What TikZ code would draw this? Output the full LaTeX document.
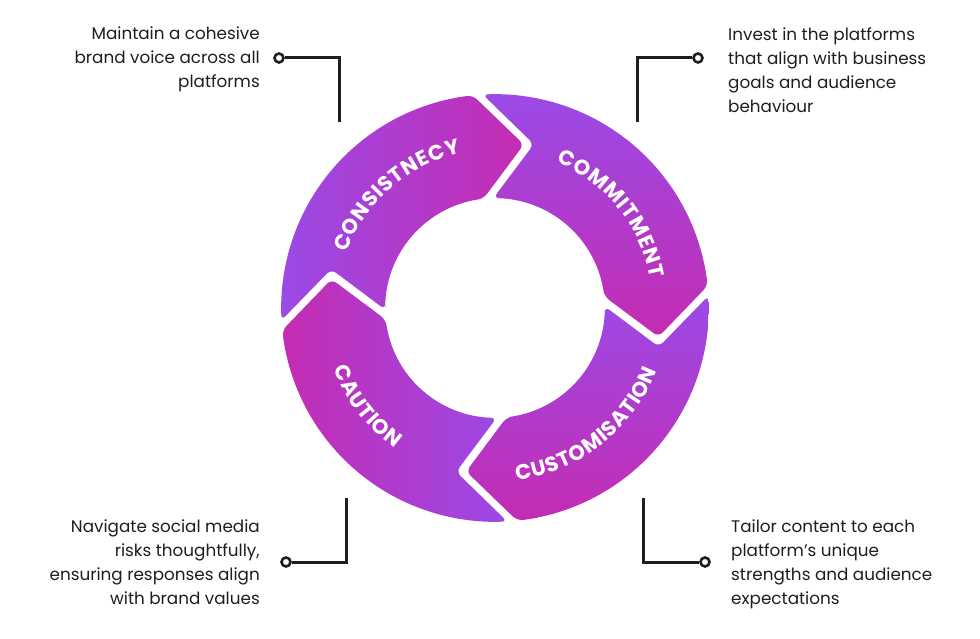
\documentclass[tikz,border=0pt]{standalone}
\usepackage{fontspec}
\setmainfont{Poppins}
\usetikzlibrary{calc,decorations.text}
\definecolor{purp}{HTML}{9B4AE6}
\definecolor{mag}{HTML}{C42CB2}
\definecolor{ink}{HTML}{1E1E1E}
\newcommand\labelfont{\bfseries\fontsize{21pt}{21pt}\selectfont}
% one cycle segment: #1 start boundary angle, #2 shading options
\newcommand\cyclesegment[2]{%
  \pgfmathsetmacro\sA{#1+1.32}%
  \pgfmathsetmacro\sB{#1-86}%
  \pgfmathsetmacro\sC{#1-102}%
  \pgfmathsetmacro\sD{#1-1.19}%
  \pgfmathsetmacro\sN{#1-12}%
  \pgfmathsetmacro\sT{#1-90}%
  \shade[segshape,#2] plot[domain=\sA:\sB,samples=20] (\x:214) -- (\sC:166)
    -- plot[domain=\sB:\sD,samples=20] (\x:110) -- ($(\sN:166)+(\sT:10)$) -- cycle;
}
% label along an arc: #1 centre angle, #2 radius, #3 text, #4 half span (signed: + clockwise)
\newcommand\arclabel[4]{%
  \pgfmathsetmacro\la{#1+#4}%
  \pgfmathsetmacro\lb{#1-#4}%
  \path[decorate,decoration={text effects along path,text={#3},text align=center,
    text effects/.cd, text along path,
    character widths={font=\labelfont, inner xsep=0.4pt},
    characters={text=white, font=\labelfont, inner sep=0pt, anchor=base}}]
    (\la:#2) arc[start angle=\la,end angle=\lb,radius=#2pt];
}
\begin{document}
\begin{tikzpicture}[x=1pt,y=1pt,
  segshape/.style={rounded corners=6pt},
  desc/.style={font=\fontsize{16.8pt}{24pt}\selectfont, text=ink, inner sep=0pt},
  conn/.style={draw=ink, line width=3pt},
  dot/.style={circle, draw=ink, fill=white, line width=2.6pt, minimum size=9pt, inner sep=0pt}]
\useasboundingbox (0,0) rectangle (980,638);
\begin{scope}[shift={(495,330)}]
  \cyclesegment{182}{left color=purp, right color=mag}
  \cyclesegment{92}{top color=purp, bottom color=mag}
  \cyclesegment{2}{top color=purp, bottom color=mag}
  \cyclesegment{-88}{left color=mag, right color=purp}
  \arclabel{131}{158.5}{CONSISTNECY}{60}
  \arclabel{39}{158.5}{COMMITMENT}{60}
  \arclabel{-52}{173.5}{CUSTOMISATION}{-60}
  \arclabel{217.5}{172.5}{CAUTION}{-60}
\end{scope}
% descriptions
\node[desc, align=right, anchor=north east] (t1) at (260,611) {Maintain a cohesive\\brand voice across all\\platforms};
\node[desc, align=left, anchor=north west] (t2) at (728,611) {Invest in the platforms\\that align with business\\goals and audience\\behaviour};
\node[desc, align=right, anchor=north east] (t3) at (260,118) {Navigate social media\\risks thoughtfully,\\ensuring responses align\\with brand values};
\node[desc, align=left, anchor=north west] (t4) at (731,118) {Tailor content to each\\platform’s unique\\strengths and audience\\expectations};
% connectors
\node[dot] (d1) at (279,580) {};
\coordinate (c1a) at (339,580); \coordinate (c1b) at (339,516);
\draw[conn] (d1) -- (c1a) -- (c1b);
\node[dot] (d2) at (698,580) {};
\coordinate (c2a) at (637,580); \coordinate (c2b) at (637,516);
\draw[conn] (d2) -- (c2a) -- (c2b);
\node[dot] (d3) at (286,76) {};
\coordinate (c3a) at (346,76); \coordinate (c3b) at (346,140);
\draw[conn] (d3) -- (c3a) -- (c3b);
\node[dot] (d4) at (705,76) {};
\coordinate (c4a) at (643,76); \coordinate (c4b) at (643,140);
\draw[conn] (d4) -- (c4a) -- (c4b);
\end{tikzpicture}
\end{document}
